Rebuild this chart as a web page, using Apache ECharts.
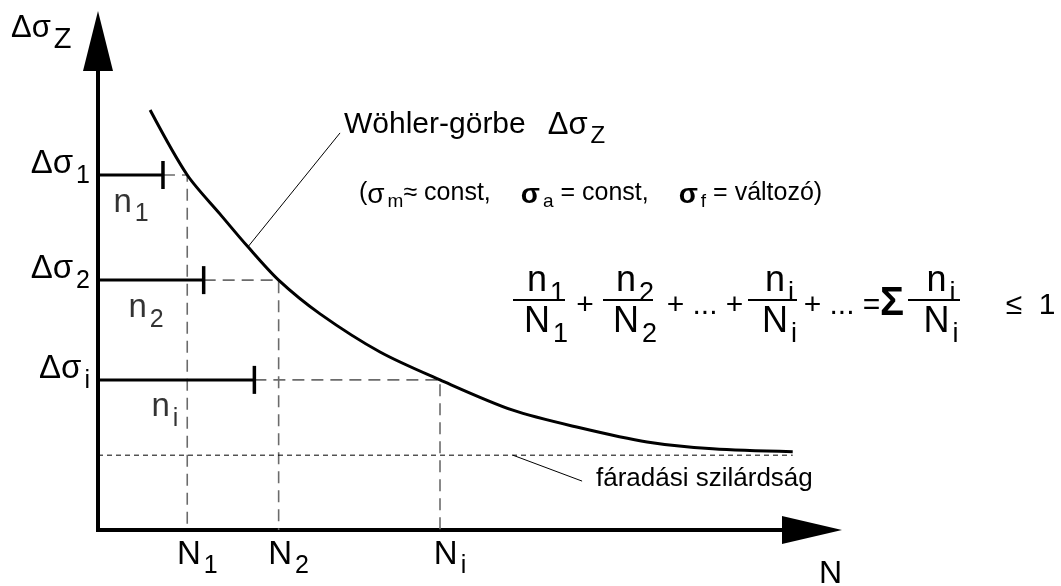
<!DOCTYPE html>
<html>
<head>
<meta charset="utf-8">
<script src="https://cdn.jsdelivr.net/npm/echarts@6/dist/echarts.min.js"></script>
<style>
  html, body { margin: 0; padding: 0; background: #fff; }
  #chart { width: 1061px; height: 586px; }
</style>
</head>
<body>
<div id="chart"></div>
<script>
// Wöhler curve (S–N curve) with Palmgren–Miner damage summation, schematic units.
const curveN = [7.3, 12.5, 17.1, 21.0, 25.3, 31.1, 39.5, 47.9, 58.1, 67.5, 76.9, 86.1, 97.3];
const curveS = [85.9, 72.6, 64.6, 57.9, 51.1, 44.2, 36.4, 30.7, 24.5, 20.9, 18.0, 16.6, 16.0];

const levelSubs = ['1', '2', 'i'];
const levelS = [72.6, 51.1, 30.7];   // stress ranges Δσ1, Δσ2, Δσi
const lifeN = [12.5, 25.3, 47.9];    // cycles to failure N1, N2, Ni
const appliedN = [9.1, 14.8, 21.9];  // applied cycles n1, n2, ni

const fatigueS = 15.3;               // fatigue limit
const fatigueEndN = 97.3;

const woehlerLeader = [[21.0, 57.9], [33.9, 81.2]];
const fatigueLeader = [[58.1, 15.3], [67.8, 10.0]];

const FONT = "'Liberation Sans', Arial, Helvetica, sans-serif";

// rich-text styles: main glyphs plus a lowered subscript
function richSet(F, f, d, extra) {
  const base = { fontFamily: FONT, color: '#000', verticalAlign: 'top' };
  return Object.assign({
    m: Object.assign({}, base, { fontSize: F, lineHeight: F }),
    s: Object.assign({}, base, { fontSize: f, lineHeight: f, padding: [F - f + d, 0, 0, 3] })
  }, extra || {});
}
const R = richSet(33, 25, 8);

function nearestIndex(arr, v) {
  let best = 0;
  arr.forEach((a, i) => { if (Math.abs(a - v) < Math.abs(arr[best] - v)) best = i; });
  return best;
}

const series = [];

// dashed guides: from the end of each applied block to the curve, then down to N
levelS.forEach((s, i) => {
  series.push({
    type: 'line', silent: true, symbol: 'none', z: 1,
    data: [[appliedN[i], s], [lifeN[i], s], [lifeN[i], 0]],
    lineStyle: { color: '#6b6b6b', width: 1.6, type: [12, 7] }
  });
});

// fatigue limit
series.push({
  type: 'line', silent: true, symbol: 'none', z: 1,
  data: [[0, fatigueS], [fatigueEndN, fatigueS]],
  lineStyle: { color: '#000', width: 1, type: [5, 4] }
});

// applied blocks n_k with end tick
levelS.forEach((s, i) => {
  series.push({
    type: 'line', silent: true, showSymbol: true, z: 3,
    data: [
      { value: [0, s], symbol: 'none' },
      { value: [appliedN[i], s], symbol: 'rect', symbolSize: [3.5, 28] }
    ],
    itemStyle: { color: '#000' },
    lineStyle: { color: '#000', width: 3 }
  });
});

// block labels n_k
series.push({
  type: 'scatter', silent: true, symbolSize: 0, z: 4,
  data: levelS.map((s, i) => ({ value: [appliedN[i] * 0.37, s], sub: levelSubs[i] })),
  label: {
    show: true, position: 'bottom', distance: 11,
    formatter: p => '{m|n}{s|' + p.data.sub + '}',
    rich: R, padding: [0, 0, 0, 18]
  }
});

// Wöhler curve
series.push({
  type: 'line', silent: true, symbol: 'none', z: 5,
  smooth: 0.3,
  data: curveN.map((n, i) => [n, curveS[i]]),
  lineStyle: { color: '#000', width: 3 }
});

// leader lines
[woehlerLeader, fatigueLeader].forEach(seg => {
  series.push({
    type: 'line', silent: true, symbol: 'none', z: 2,
    data: seg, lineStyle: { color: '#000', width: 1 }
  });
});

// Miner sum written as separate fractions
const barY = 300;
const fractions = [
  { x1: 513, x2: 565, sub: '1' },
  { x1: 603, x2: 653, sub: '2' },
  { x1: 748, x2: 797, sub: 'i' },
  { x1: 908, x2: 960, sub: 'i' }
];
const FR = richSet(36, 27, 8);
const formula = [];
fractions.forEach(fr => {
  const cx = (fr.x1 + fr.x2) / 2;
  formula.push({ type: 'line', shape: { x1: fr.x1, y1: barY, x2: fr.x2, y2: barY }, style: { stroke: '#000', lineWidth: 2 } });
  formula.push({ type: 'text', x: cx, y: barY - 1, style: { text: '{m|n}{s|' + fr.sub + '}', rich: FR, align: 'center', verticalAlign: 'bottom', padding: [0, 0, 0, 14] } });
  formula.push({ type: 'text', x: cx, y: barY + 4, style: { text: '{m|N}{s|' + fr.sub + '}', rich: FR, align: 'center', verticalAlign: 'top', padding: [0, 0, 0, 14] } });
});
const ops = [
  { x: 585, t: '+' },
  { x: 705, t: '+ ... +' },
  { x: 842, t: '+ ... =' },
  { x: 1014, t: '≤' },
  { x: 1047, t: '1' }
];
ops.forEach(o => {
  formula.push({ type: 'text', x: o.x, y: barY + 6, style: { text: o.t, fontFamily: FONT, fontSize: 30, fill: '#000', align: 'center', verticalAlign: 'middle' } });
});
formula.push({ type: 'text', x: 892, y: barY + 4, style: { text: 'Σ', fontFamily: FONT, fontSize: 40, fontWeight: 'bold', fill: '#000', align: 'center', verticalAlign: 'middle' } });

// loading conditions line: σa and σf a little heavier, wide gaps before them
const sigmaBase = { fontFamily: FONT, color: '#000', verticalAlign: 'top', fontSize: 28, lineHeight: 25 };
const condRich = richSet(25, 19, 5, {
  g: Object.assign({}, sigmaBase),
  ga: Object.assign({}, sigmaBase, { fontWeight: 'bold', padding: [0, 0, 0, 30] })
});

const option = {
  animation: false,
  backgroundColor: '#fff',
  grid: { left: 98, top: 41, width: 714, height: 489, containLabel: false },
  xAxis: {
    type: 'value', min: 0, max: 100,
    splitLine: { show: false }, axisTick: { show: false },
    axisLine: { show: true, symbol: ['none', 'triangle'], symbolSize: [28, 60], lineStyle: { color: '#000', width: 4, cap: 'square' } },
    axisLabel: {
      show: true, customValues: lifeN, margin: 8, padding: [0, 0, 0, 20],
      formatter: v => '{m|N}{s|' + levelSubs[nearestIndex(lifeN, v)] + '}',
      rich: R
    }
  },
  yAxis: {
    type: 'value', min: 0, max: 100,
    splitLine: { show: false }, axisTick: { show: false },
    axisLine: { show: true, symbol: ['none', 'triangle'], symbolSize: [30, 60], lineStyle: { color: '#000', width: 4, cap: 'square' } },
    axisLabel: {
      show: true, customValues: levelS, margin: 8, padding: [0, 0, 22, 0],
      formatter: v => '{m|Δσ}{s|' + levelSubs[nearestIndex(levelS, v)] + '}',
      rich: R
    }
  },
  series: series,
  graphic: [
    { type: 'text', x: 11, y: 13, style: { text: '{m|Δσ}{s|Z}', rich: richSet(31, 29, 10) } },
    { type: 'text', x: 819, y: 558, style: { text: 'N', fontFamily: FONT, fontSize: 32, fill: '#000' } },
    { type: 'text', x: 344, y: 110, style: {
        text: '{m|Wöhler-görbe}{d|Δσ}{s|Z}',
        rich: richSet(30, 24, 8, { d: { fontFamily: FONT, color: '#000', verticalAlign: 'top', fontSize: 31, lineHeight: 30, padding: [0, 0, 0, 22] } })
    } },
    { type: 'text', x: 359, y: 181, style: {
        text: '{m|(}{g|σ}{s|m}{m|≈ const,}{ga|σ}{s|a}{m| = const,}{ga|σ}{s|f}{m| = változó)}',
        rich: condRich
    } },
    { type: 'text', x: 596, y: 466, style: { text: 'fáradási szilárdság', fontFamily: FONT, fontSize: 26, fill: '#000' } }
  ].concat(formula)
};

const chart = echarts.init(document.getElementById('chart'), null, { renderer: 'canvas' });
chart.setOption(option);
</script>
</body>
</html>
